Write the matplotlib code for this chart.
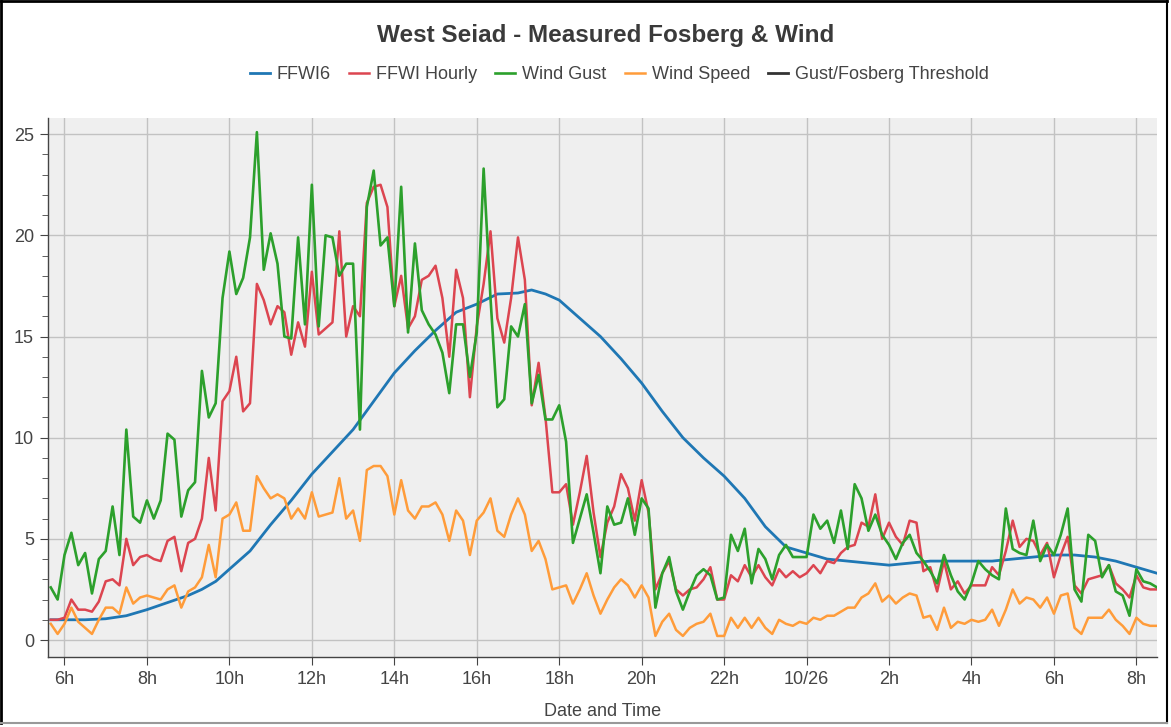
import pandas as pd
import matplotlib.pyplot as plt
import matplotlib.dates as mdates
from matplotlib.ticker import MultipleLocator, FuncFormatter
from matplotlib.lines import Line2D

plt.rcParams['font.family'] = ['Liberation Sans', 'DejaVu Sans']

# 10-minute observations, starting 10/25 05:40 (one row per hour)
wind_gust = [
    2.6, 2.0,
    4.2, 5.3, 3.7, 4.3, 2.3, 4.0,
    4.4, 6.6, 4.2, 10.4, 6.1, 5.8,
    6.9, 6.0, 6.9, 10.2, 9.9, 6.1,
    7.4, 7.8, 13.3, 11.0, 11.7, 16.9,
    19.2, 17.1, 17.9, 19.9, 25.1, 18.3,
    20.1, 18.6, 15.0, 14.9, 19.9, 15.6,
    22.5, 15.5, 20.0, 19.9, 18.0, 18.6,
    18.6, 10.4, 21.4, 23.2, 19.5, 19.9,
    16.5, 22.4, 15.2, 19.6, 16.3, 15.6,
    15.1, 14.2, 12.2, 15.6, 15.6, 13.0,
    15.2, 23.3, 16.9, 11.5, 11.9, 15.5,
    15.0, 16.6, 11.7, 13.1, 10.9, 10.9,
    11.6, 9.8, 4.8, 6.0, 7.2, 5.3,
    3.3, 6.6, 5.7, 5.8, 7.0, 5.2,
    7.0, 6.5, 1.6, 3.3, 4.1, 2.4,
    1.5, 2.4, 3.2, 3.5, 3.2, 2.0,
    2.1, 5.2, 4.4, 5.5, 2.8, 4.5,
    4.0, 3.0, 4.2, 4.7, 4.1, 4.1,
    4.1, 6.2, 5.5, 5.9, 4.8, 6.4,
    4.5, 7.7, 7.0, 5.4, 6.2, 5.2,
    4.7, 4.0, 4.8, 5.2, 4.3, 3.9,
    3.4, 2.8, 4.2, 3.2, 2.4, 2.0,
    2.8, 3.9, 3.5, 3.2, 3.0, 6.5,
    4.5, 4.3, 4.2, 5.9, 3.9, 4.7,
    4.2, 5.2, 6.5, 2.5, 1.9, 5.2,
    4.9, 3.1, 3.7, 2.4, 2.2, 1.2,
    3.5, 2.9, 2.8, 2.6,
]

ffwi_hourly = [
    1.0, 1.0,
    1.1, 2.0, 1.5, 1.5, 1.4, 1.9,
    2.9, 3.0, 2.7, 5.0, 3.7, 4.1,
    4.2, 4.0, 3.9, 4.9, 5.1, 3.4,
    4.8, 5.0, 6.0, 9.0, 6.4, 11.8,
    12.3, 14.0, 11.3, 11.7, 17.6, 16.8,
    15.6, 16.5, 16.2, 14.1, 15.7, 14.5,
    18.2, 15.1, 15.4, 15.7, 20.2, 15.0,
    16.5, 16.0, 21.6, 22.4, 22.5, 21.4,
    16.5, 18.0, 15.4, 16.0, 17.8, 18.0,
    18.5, 16.9, 14.0, 18.3, 16.9, 12.0,
    15.5, 17.6, 20.2, 15.9, 14.7, 16.9,
    19.9, 17.8, 11.6, 13.7, 11.0, 7.3,
    7.3, 7.7, 5.7, 7.3, 9.1, 6.3,
    4.1, 5.8, 6.6, 8.2, 7.5, 5.9,
    7.9, 6.3, 2.5, 3.3, 3.9, 2.5,
    2.2, 2.5, 2.6, 3.0, 3.6, 2.0,
    2.0, 3.2, 2.9, 3.7, 3.1, 3.7,
    3.1, 2.7, 3.5, 3.1, 3.4, 3.1,
    3.3, 3.7, 3.3, 3.9, 3.8, 4.3,
    4.6, 4.7, 5.8, 5.6, 7.2, 5.0,
    5.8, 5.1, 4.7, 5.9, 5.8, 3.4,
    3.6, 2.4, 3.9, 2.5, 2.9, 2.3,
    2.7, 2.7, 2.7, 3.6, 3.2, 4.4,
    5.9, 4.6, 5.0, 4.9, 4.2, 4.8,
    3.1, 4.2, 5.1, 2.7, 2.3, 3.0,
    3.1, 3.2, 3.7, 2.8, 2.5, 2.1,
    3.2, 2.6, 2.5, 2.5,
]

wind_speed = [
    0.8, 0.3,
    0.8, 1.6, 0.9, 0.6, 0.3, 1.0,
    1.6, 1.6, 1.3, 2.6, 1.8, 2.1,
    2.2, 2.1, 2.0, 2.5, 2.7, 1.6,
    2.4, 2.6, 3.1, 4.7, 3.1, 6.0,
    6.2, 6.8, 5.4, 5.4, 8.1, 7.5,
    7.0, 7.2, 7.0, 6.0, 6.5, 6.0,
    7.3, 6.1, 6.2, 6.3, 8.0, 6.0,
    6.4, 4.9, 8.4, 8.6, 8.6, 8.1,
    6.2, 7.9, 6.4, 6.0, 6.6, 6.6,
    6.8, 6.2, 4.9, 6.4, 5.9, 4.2,
    5.9, 6.3, 7.0, 5.4, 5.1, 6.2,
    7.0, 6.2, 4.4, 4.9, 4.0, 2.5,
    2.6, 2.7, 1.8, 2.5, 3.3, 2.2,
    1.3, 2.0, 2.6, 3.0, 2.7, 2.1,
    2.7, 2.1, 0.2, 0.9, 1.3, 0.5,
    0.2, 0.6, 0.8, 0.9, 1.3, 0.2,
    0.2, 1.1, 0.6, 1.1, 0.6, 1.1,
    0.6, 0.3, 1.0, 0.8, 0.7, 0.9,
    0.8, 1.1, 1.0, 1.2, 1.2, 1.4,
    1.6, 1.6, 2.1, 2.3, 2.8, 1.9,
    2.2, 1.8, 2.1, 2.3, 2.2, 1.1,
    1.2, 0.5, 1.6, 0.6, 0.9, 0.8,
    1.0, 0.9, 1.0, 1.5, 0.7, 1.5,
    2.5, 1.8, 2.1, 2.0, 1.6, 2.1,
    1.3, 2.2, 2.3, 0.6, 0.3, 1.1,
    1.1, 1.1, 1.5, 1.0, 0.7, 0.3,
    1.1, 0.8, 0.7, 0.7,
]

# FFWI6 (smooth), hours after midnight 10/25
ffwi6_hours = [5.67, 6, 6.5, 7, 7.5, 8, 8.5, 9, 9.33, 9.67, 10, 10.5, 11, 11.5,
               12, 12.5, 13, 13.5, 14, 14.5, 15, 15.5, 16, 16.5, 17, 17.33,
               17.67, 18, 18.5, 19, 19.5, 20, 20.5, 21, 21.5, 22, 22.5, 23,
               23.5, 24, 24.5, 25, 25.5, 26, 26.5, 27, 27.5, 28, 28.5, 29,
               29.5, 30, 30.5, 31, 31.5, 32, 32.5]
ffwi6 = [1.0, 1.0, 1.0, 1.05, 1.2, 1.5, 1.85, 2.2, 2.5, 2.9, 3.5, 4.4, 5.7, 6.9,
         8.2, 9.3, 10.4, 11.8, 13.2, 14.3, 15.3, 16.2, 16.6, 17.1, 17.15, 17.3,
         17.1, 16.8, 15.9, 15.0, 13.9, 12.7, 11.3, 10.0, 9.0, 8.1, 7.0, 5.6,
         4.6, 4.3, 4.0, 3.9, 3.8, 3.7, 3.8, 3.9, 3.9, 3.9, 3.9, 4.0,
         4.1, 4.2, 4.2, 4.1, 3.9, 3.6, 3.3]

day0 = pd.Timestamp('2021-10-25')
obs_time = pd.date_range(day0 + pd.Timedelta(minutes=340), periods=len(wind_gust), freq='10min')
ffwi6_time = [day0 + pd.Timedelta(hours=h) for h in ffwi6_hours]

fig = plt.figure(figsize=(11.71, 7.27), dpi=100)
ax = fig.add_axes([48 / 1171, 1 - 657 / 727, 1109 / 1171, 539 / 727])
ax.set_facecolor('#efefef')

ax.plot(ffwi6_time, ffwi6, color='#1f77b4', lw=2.0, label='FFWI6')
ax.plot(obs_time, ffwi_hourly, color='#dc4550', lw=1.8, label='FFWI Hourly')
ax.plot(obs_time, wind_gust, color='#2ca02c', lw=1.9, label='Wind Gust')
ax.plot(obs_time, wind_speed, color='#ff9c3a', lw=1.8, label='Wind Speed')
ax.plot([], [], color='#333333', lw=2.0, label='Gust/Fosberg Threshold')

ax.set_xlim(day0 + pd.Timedelta(minutes=336), day0 + pd.Timedelta(hours=32, minutes=30))
ax.set_ylim(-0.84, 25.8)

ax.yaxis.set_major_locator(MultipleLocator(5))
ax.yaxis.set_minor_locator(MultipleLocator(1))
ax.xaxis.set_major_locator(mdates.HourLocator(byhour=range(0, 24, 2)))


def fmt_time(x, pos):
    d = mdates.num2date(x)
    if d.hour == 0:
        return d.strftime('%m/%d')
    return f'{d.hour}h'


ax.xaxis.set_major_formatter(FuncFormatter(fmt_time))

ax.grid(True, which='major', color='#c2c2c2', lw=1.0)
ax.set_axisbelow(True)
for s in ['top', 'right']:
    ax.spines[s].set_visible(False)
for s in ['left', 'bottom']:
    ax.spines[s].set_color('#444444')
    ax.spines[s].set_linewidth(1.0)
ax.tick_params(which='major', direction='out', length=6, color='#444444',
               labelsize=13, labelcolor='#444444', pad=4)
ax.tick_params(which='minor', direction='out', length=4, color='#444444')
ax.set_xlabel('Date and Time', fontsize=13, color='#444444', labelpad=11)

fig.text(0.517, 0.951, 'West Seiad - Measured Fosberg & Wind', ha='center', va='center',
         fontsize=17.5, fontweight='bold', color='#3a3a3a')
fig.legend(loc='center', bbox_to_anchor=(0.529, 0.897), ncol=5, frameon=False,
           fontsize=13, handlelength=1.1, handletextpad=0.4, columnspacing=1.0,
           labelcolor='#444444')

# outer frame of the picture
fig.add_artist(Line2D([0.001, 0.001], [0.005, 0.998], transform=fig.transFigure, color='black', lw=2))
fig.add_artist(Line2D([0.001, 0.997], [0.998, 0.998], transform=fig.transFigure, color='black', lw=2))
fig.add_artist(Line2D([0.997, 0.997], [0.005, 0.998], transform=fig.transFigure, color='black', lw=1.5))
fig.add_artist(Line2D([0.001, 0.997], [0.006, 0.006], transform=fig.transFigure, color='#999999', lw=1.5))

fig.savefig('out.png', dpi=100)
